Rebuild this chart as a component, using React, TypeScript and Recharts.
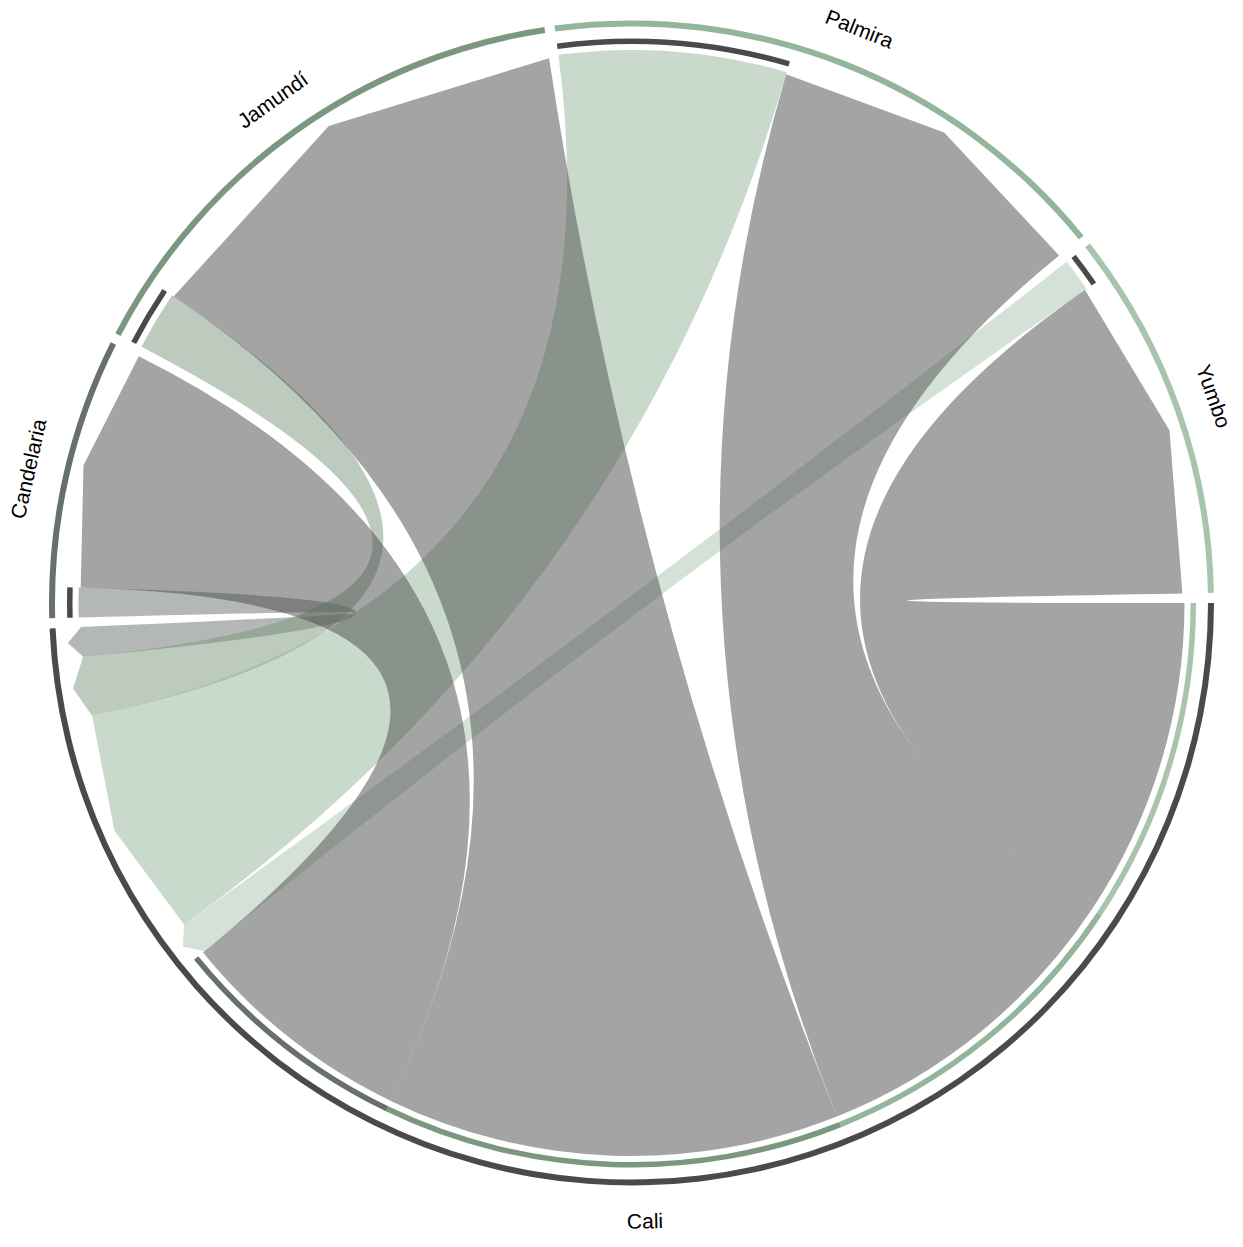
import { PieChart, Pie, Cell, Customized } from "recharts";

// regions in clockwise order, starting at 3 o'clock
const regions = ["Cali", "Candelaria", "Jamundí", "Palmira", "Yumbo"];
const regionColors = ["#4a4a4a", "#67706b", "#7b977f", "#93b59b", "#a9c4ae"];

// directed flows (origin -> destination)
const flowFrom = ["Cali", "Cali", "Cali", "Cali", "Candelaria", "Jamundí", "Palmira", "Yumbo"];
const flowTo = ["Yumbo", "Palmira", "Jamundí", "Candelaria", "Cali", "Cali", "Cali", "Cali"];
const flowValue = [33.6, 34.6, 47.6, 25.0, 3.1, 6.2, 23.9, 3.5];

const W = 1243;
const H = 1247;
const CX = 631.5;
const CY = 603;
const GAP = 1; // degrees between regions
const GRID_IN = 576.5;
const GRID_OUT = 582.5;
const BAR_IN = 559;
const BAR_OUT = 564.5;
const LINK_R = 553;
const HEAD_BASE = 551;
const HEAD_TIP = 565;
const LABEL_R = 618;

interface End {
  a0: number;
  a1: number;
}

const colorOf = (name: string) => regionColors[regions.indexOf(name)];

// angles in degrees, clockwise from 3 o'clock (same split the Pie uses)
function layout() {
  const sizes = regions.map((r) =>
    flowValue.reduce(
      (s, v, i) => s + (flowFrom[i] === r ? v : 0) + (flowTo[i] === r ? v : 0),
      0
    )
  );
  const total = sizes.reduce((a, b) => a + b, 0);
  const k = (360 - GAP * regions.length) / total;
  const src: End[] = [];
  const tgt: End[] = [];
  const groups: { name: string; value: number; start: number; end: number; ends: any[] }[] = [];
  let a = 0;
  regions.forEach((name, gi) => {
    const start = a;
    const ends: any[] = [];
    const ids = flowValue.map((_, i) => i);
    const out = ids
      .filter((i) => flowFrom[i] === name)
      .sort((x, y) => regions.indexOf(flowTo[y]) - regions.indexOf(flowTo[x]));
    out.forEach((i) => {
      src[i] = { a0: a, a1: a + flowValue[i] * k };
      a = src[i].a1;
      ends.push({ name: flowTo[i], value: flowValue[i], fill: colorOf(flowTo[i]) });
    });
    const inc = ids
      .filter((i) => flowTo[i] === name)
      .sort((x, y) => regions.indexOf(flowFrom[y]) - regions.indexOf(flowFrom[x]));
    inc.forEach((i) => {
      tgt[i] = { a0: a, a1: a + flowValue[i] * k };
      a = tgt[i].a1;
      ends.push({ name: flowFrom[i], value: flowValue[i], fill: "none" });
    });
    groups.push({ name, value: sizes[gi], start, end: a, ends });
    a += GAP;
  });
  return { groups, src, tgt };
}

const { groups, src, tgt } = layout();
const groupData = groups.map((g) => ({ name: g.name, value: g.value }));

const pt = (deg: number, r: number) => {
  const t = (deg * Math.PI) / 180;
  return `${(CX + r * Math.cos(t)).toFixed(2)},${(CY + r * Math.sin(t)).toFixed(2)}`;
};

function ribbonPath(s: End, t: End) {
  const large = s.a1 - s.a0 > 180 ? 1 : 0;
  return (
    `M${pt(s.a0, LINK_R)} A${LINK_R},${LINK_R} 0 ${large} 1 ${pt(s.a1, LINK_R)} ` +
    `Q${CX},${CY} ${pt(t.a0, HEAD_BASE)} L${pt((t.a0 + t.a1) / 2, HEAD_TIP)} ` +
    `L${pt(t.a1, HEAD_BASE)} Q${CX},${CY} ${pt(s.a0, LINK_R)} Z`
  );
}

function Ribbons() {
  // biggest flows drawn last, on top
  const order = flowValue.map((_, i) => i).sort((a, b) => flowValue[a] - flowValue[b]);
  return (
    <g>
      {order.map((i) => (
        <path
          key={i}
          d={ribbonPath(src[i], tgt[i])}
          fill={colorOf(flowFrom[i])}
          fillOpacity={0.5}
          stroke="none"
        />
      ))}
    </g>
  );
}

const renderLabel = (props: any) => {
  const mid =
    props.midAngle != null ? props.midAngle : (props.startAngle + props.endAngle) / 2;
  const theta = -mid; // clockwise degrees
  const rad = (theta * Math.PI) / 180;
  const x = CX + LABEL_R * Math.cos(rad);
  const y = CY + LABEL_R * Math.sin(rad);
  const norm = ((theta % 360) + 360) % 360;
  const rot = norm > 0 && norm < 180 ? norm - 90 : norm - 270;
  return (
    <text
      x={x}
      y={y}
      transform={`rotate(${rot} ${x} ${y})`}
      textAnchor="middle"
      dominantBaseline="central"
      fontFamily="'Liberation Sans', Arial, sans-serif"
      fontSize={21}
      fill="#000"
    >
      {regions[props.index]}
    </text>
  );
};

export default function App() {
  return (
    <div style={{ position: "absolute", left: 0, top: 0, background: "#fff" }}>
      <PieChart width={W} height={H} margin={{ top: 0, right: 0, bottom: 0, left: 0 }}>
        <Customized component={Ribbons} />
        <Pie
          data={groupData}
          dataKey="value"
          nameKey="name"
          cx={CX}
          cy={CY}
          innerRadius={GRID_IN}
          outerRadius={GRID_OUT}
          startAngle={0}
          endAngle={-360}
          paddingAngle={GAP}
          stroke="none"
          label={renderLabel}
          labelLine={false}
          isAnimationActive={false}
        >
          {groupData.map((g, i) => (
            <Cell key={g.name} fill={regionColors[i]} />
          ))}
        </Pie>
        {groups.map((g) => (
          <Pie
            key={g.name}
            data={g.ends}
            dataKey="value"
            nameKey="name"
            cx={CX}
            cy={CY}
            innerRadius={BAR_IN}
            outerRadius={BAR_OUT}
            startAngle={-g.start}
            endAngle={-g.end}
            paddingAngle={0}
            stroke="none"
            isAnimationActive={false}
          >
            {g.ends.map((e, j) => (
              <Cell key={j} fill={e.fill} />
            ))}
          </Pie>
        ))}
      </PieChart>
    </div>
  );
}
